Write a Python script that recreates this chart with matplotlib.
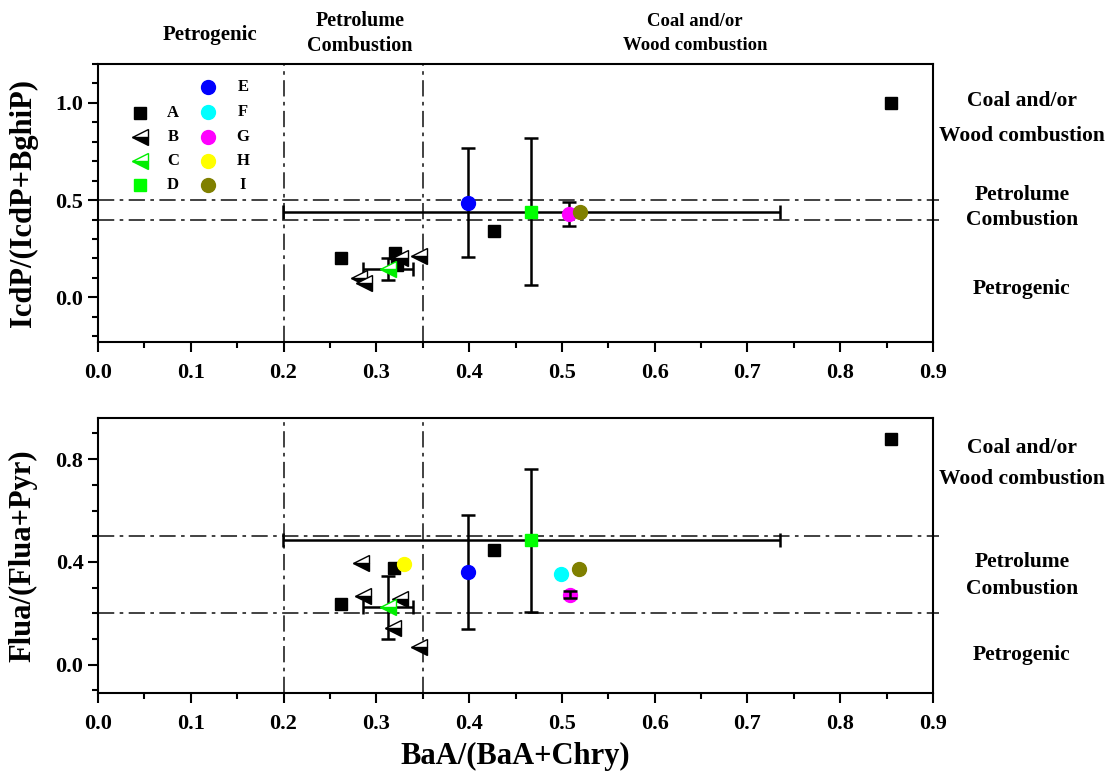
import matplotlib
matplotlib.use('Agg')
import matplotlib.pyplot as plt
from matplotlib.ticker import MultipleLocator

plt.rcParams['font.family'] = ['Liberation Serif', 'DejaVu Serif']
plt.rcParams['font.weight'] = 'bold'
plt.rcParams['axes.labelweight'] = 'bold'

# ---------------- data ----------------
series = ['A', 'B', 'C', 'D', 'E', 'F', 'G', 'H', 'I']

# Top panel: IcdP/(IcdP+BghiP) vs BaA/(BaA+Chry)
top_A_x = [0.2615, 0.320, 0.322, 0.427, 0.855]
top_A_y = [0.200, 0.227, 0.165, 0.342, 1.000]
top_B_x = [0.326, 0.3455, 0.281, 0.287]
top_B_y = [0.200, 0.213, 0.097, 0.075]
top_C_x = [0.313]
top_C_y = [0.146]
top_C_xerr = [0.027]
top_C_yerr = [0.058]
top_D_x = [0.467]
top_D_y = [0.440]
top_D_xerr = [0.268]
top_D_yerr = [0.378]
top_E_x = [0.399]
top_E_y = [0.487]
top_E_yerr = [0.280]
top_F_x = []
top_F_y = []
top_G_x = [0.508]
top_G_y = [0.428]
top_G_yerr = [0.060]
top_H_x = []
top_H_y = []
top_I_x = [0.519]
top_I_y = [0.437]

# Bottom panel: Flua/(Flua+Pyr) vs BaA/(BaA+Chry)
bot_A_x = [0.2615, 0.319, 0.427, 0.855]
bot_A_y = [0.238, 0.376, 0.447, 0.878]
bot_B_x = [0.283, 0.2854, 0.3258, 0.3176, 0.3455]
bot_B_y = [0.395, 0.267, 0.255, 0.144, 0.070]
bot_C_x = [0.313]
bot_C_y = [0.224]
bot_C_xerr = [0.027]
bot_C_yerr = [0.122]
bot_D_x = [0.467]
bot_D_y = [0.484]
bot_D_xerr = [0.268]
bot_D_yerr = [0.278]
bot_E_x = [0.399]
bot_E_y = [0.362]
bot_E_yerr = [0.222]
bot_F_x = [0.499]
bot_F_y = [0.352]
bot_G_x = [0.509]
bot_G_y = [0.273]
bot_G_yerr = [0.013]
bot_H_x = [0.330]
bot_H_y = [0.390]
bot_I_x = [0.518]
bot_I_y = [0.373]

# threshold lines
vlines = [0.2, 0.35]
top_hlines = [0.5, 0.4]
bot_hlines = [0.5, 0.2]

# ---------------- styles ----------------
tri = dict(marker='<', ms=11, fillstyle='bottom', markerfacecoloralt='white', mew=1.0)
styles = {
    'A': dict(marker='s', ms=8.5, color='black', mec='black'),
    'B': dict(color='black', mfc='black', mec='black', **tri),
    'C': dict(color='#00ee00', mfc='#00ee00', mec='#00ee00', **tri),
    'D': dict(marker='s', ms=8.5, color='#00ff00', mec='#00ff00'),
    'E': dict(marker='o', ms=10, color='#0000ff', mec='#0000ff'),
    'F': dict(marker='o', ms=10, color='#00ffff', mec='#00ffff'),
    'G': dict(marker='o', ms=10, color='#ff00ff', mec='#ff00ff'),
    'H': dict(marker='o', ms=10, color='#ffff00', mec='#ffff00'),
    'I': dict(marker='o', ms=10, color='#808000', mec='#808000'),
}

W, H = 1118, 773
fig = plt.figure(figsize=(W / 100, H / 100), dpi=100)

def px(x, y):
    return x / W, 1 - y / H

ax1 = fig.add_axes([98 / W, 1 - 342 / H, 835 / W, 278 / H])
ax2 = fig.add_axes([98 / W, 1 - 693 / H, 835 / W, 275 / H])

eb = dict(fmt='none', ecolor='black', elinewidth=1.8, capsize=5, capthick=1.8)
ls_dd = (0, (9, 3, 2, 3))

def draw_panel(ax, data, hlines, errs, g_on_top):
    for v in vlines:
        ax.axvline(v, color='#333333', lw=1.3, ls=ls_dd, zorder=1)
    for h in hlines:
        ax.axhline(h, xmin=0, xmax=1.007, clip_on=False, color='#333333', lw=1.3,
                   ls=ls_dd, zorder=1)
    for s in series:
        x, y = data[s]
        if len(x):
            ax.plot(x, y, ls='none', zorder=4, **styles[s])
    for s, (x, y, xe, ye) in errs.items():
        z = 5 if (s == 'G' and g_on_top) else 3
        ax.errorbar(x, y, xerr=xe, yerr=ye, zorder=z, **eb)
    ax.set_xlim(0, 0.9)
    ax.xaxis.set_major_locator(MultipleLocator(0.1))
    ax.xaxis.set_minor_locator(MultipleLocator(0.05))
    ax.tick_params(which='major', direction='out', length=7, width=1.5, labelsize=16)
    ax.tick_params(which='minor', direction='out', length=4, width=1.5)
    ax.tick_params(axis='x', pad=8)
    for sp in ax.spines.values():
        sp.set_linewidth(1.5)

top_data = {
    'A': (top_A_x, top_A_y), 'B': (top_B_x, top_B_y), 'C': (top_C_x, top_C_y),
    'D': (top_D_x, top_D_y), 'E': (top_E_x, top_E_y), 'F': (top_F_x, top_F_y),
    'G': (top_G_x, top_G_y), 'H': (top_H_x, top_H_y), 'I': (top_I_x, top_I_y),
}
top_errs = {
    'C': (top_C_x, top_C_y, top_C_xerr, top_C_yerr),
    'D': (top_D_x, top_D_y, top_D_xerr, top_D_yerr),
    'E': (top_E_x, top_E_y, None, top_E_yerr),
    'G': (top_G_x, top_G_y, None, top_G_yerr),
}
bot_data = {
    'A': (bot_A_x, bot_A_y), 'B': (bot_B_x, bot_B_y), 'C': (bot_C_x, bot_C_y),
    'D': (bot_D_x, bot_D_y), 'E': (bot_E_x, bot_E_y), 'F': (bot_F_x, bot_F_y),
    'G': (bot_G_x, bot_G_y), 'H': (bot_H_x, bot_H_y), 'I': (bot_I_x, bot_I_y),
}
bot_errs = {
    'C': (bot_C_x, bot_C_y, bot_C_xerr, bot_C_yerr),
    'D': (bot_D_x, bot_D_y, bot_D_xerr, bot_D_yerr),
    'E': (bot_E_x, bot_E_y, None, bot_E_yerr),
    'G': (bot_G_x, bot_G_y, None, bot_G_yerr),
}

draw_panel(ax1, top_data, top_hlines, top_errs, False)
draw_panel(ax2, bot_data, bot_hlines, bot_errs, True)

ax1.set_ylim(-0.23, 1.2)
ax1.yaxis.set_major_locator(MultipleLocator(0.5))
ax1.yaxis.set_minor_locator(MultipleLocator(0.1))
ax2.set_ylim(-0.11, 0.96)
ax2.yaxis.set_major_locator(MultipleLocator(0.4))
ax2.yaxis.set_minor_locator(MultipleLocator(0.1))
for ax in (ax1, ax2):
    for lab in ax.get_xticklabels() + ax.get_yticklabels():
        lab.set_fontweight('bold')

ax1.set_ylabel('IcdP/(IcdP+BghiP)', fontsize=22, fontweight='bold')
ax2.set_ylabel('Flua/(Flua+Pyr)', fontsize=22, fontweight='bold')
ax1.yaxis.set_label_coords(-0.072, 0.5)
ax2.yaxis.set_label_coords(-0.072, 0.5)
ax2.set_xlabel('BaA/(BaA+Chry)', fontsize=22, fontweight='bold', labelpad=6)

# legend (manual, two columns)
def ax_frac(x, y):
    return (x - 98) / 835, (342 - y) / 278

col1 = [('A', 113), ('B', 137), ('C', 161), ('D', 185)]
col2 = [('E', 87), ('F', 112), ('G', 137), ('H', 161), ('I', 185)]
for entries, mx, tx in ((col1, 140, 173), (col2, 208, 243)):
    for s, yy in entries:
        fx, fy = ax_frac(mx, yy)
        ax1.plot([fx], [fy], transform=ax1.transAxes, ls='none', clip_on=False,
                 zorder=6, **styles[s])
        gx, _ = ax_frac(tx, yy)
        ax1.text(gx, fy, s, transform=ax1.transAxes, ha='center', va='center',
                 fontsize=12, fontweight='bold')

# region labels on top
fig.text(*px(210, 35), 'Petrogenic', ha='center', va='center', fontsize=15, fontweight='bold')
fig.text(*px(360, 21), 'Petrolume', ha='center', va='center', fontsize=14.5, fontweight='bold')
fig.text(*px(360, 46), 'Combustion', ha='center', va='center', fontsize=14.5, fontweight='bold')
fig.text(*px(695, 21), 'Coal and/or', ha='center', va='center', fontsize=13.5, fontweight='bold')
fig.text(*px(695, 46), 'Wood combustion', ha='center', va='center', fontsize=13.5, fontweight='bold')

# region labels on right
fs_r = 15.5
right_top = [('Coal and/or', 101), ('Wood combustion', 136), ('Petrolume', 195),
             ('Combustion', 220), ('Petrogenic', 289)]
right_bot = [('Coal and/or', 448), ('Wood combustion', 479), ('Petrolume', 562),
             ('Combustion', 589), ('Petrogenic', 655)]
for t, yy in right_top + right_bot:
    fig.text(*px(1022, yy), t, ha='center', va='center', fontsize=fs_r, fontweight='bold')

fig.savefig('out.png', dpi=100)
